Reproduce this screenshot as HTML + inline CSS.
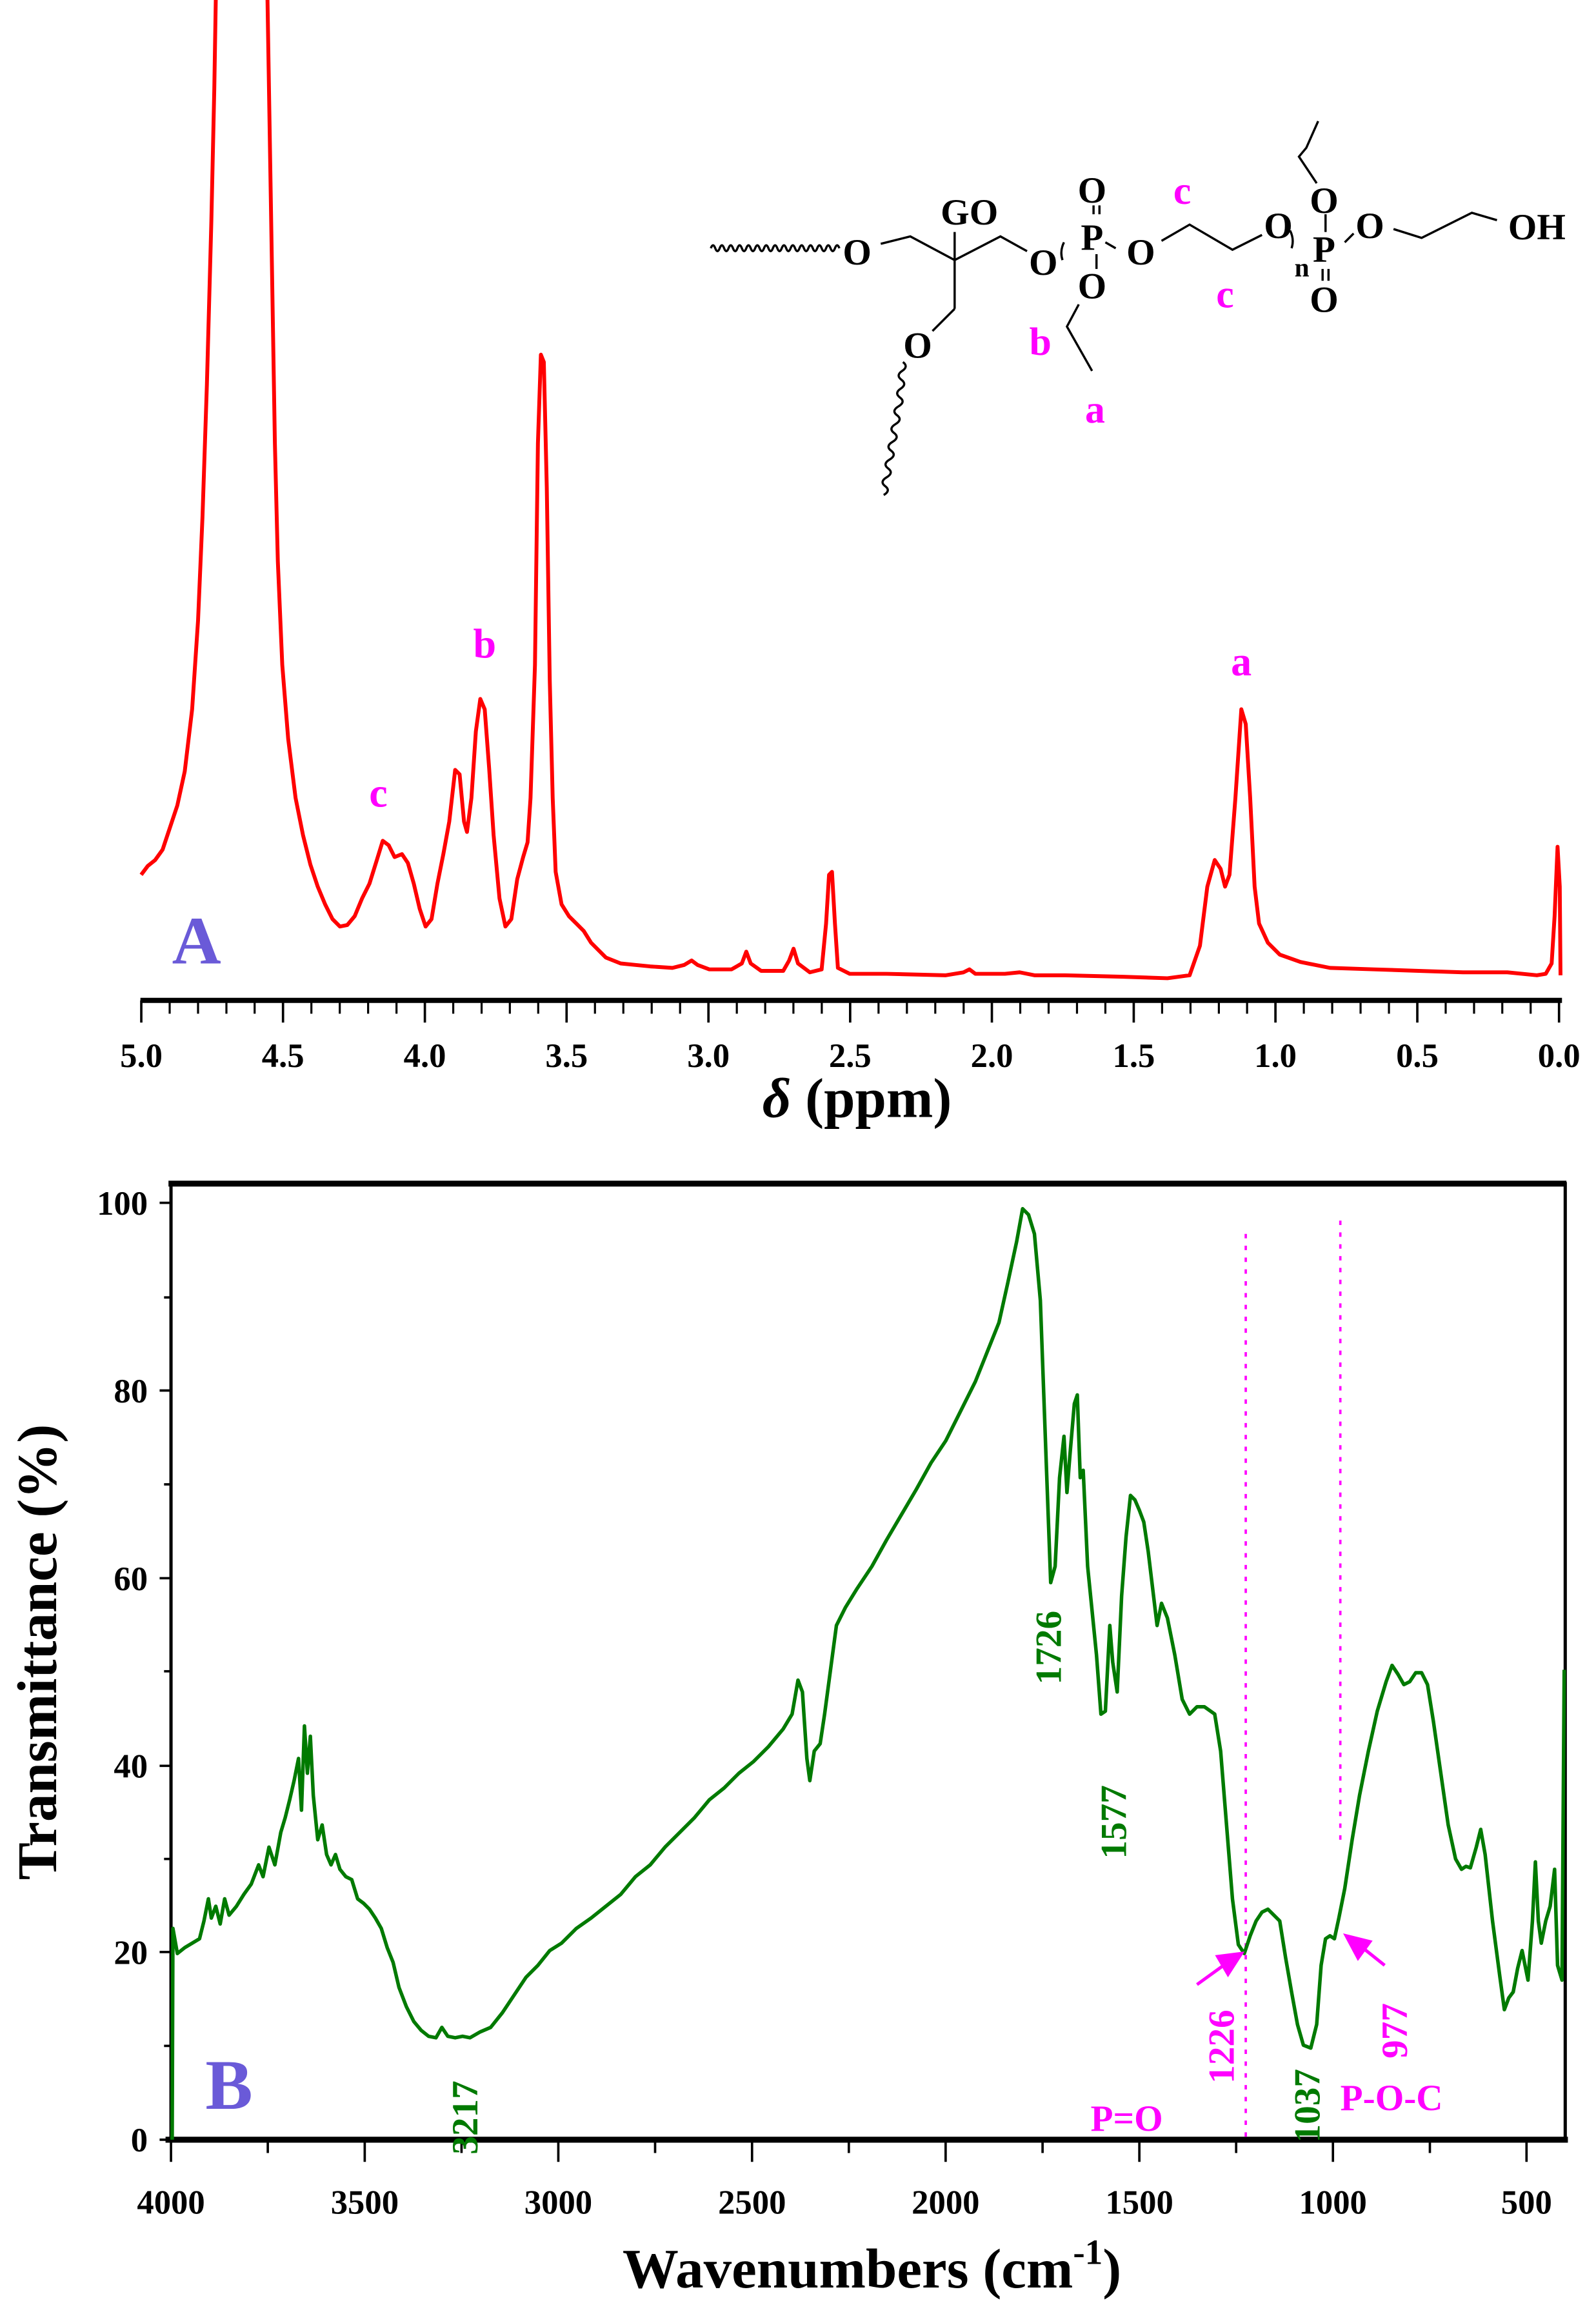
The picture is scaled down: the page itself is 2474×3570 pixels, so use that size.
<!DOCTYPE html>
<html><head><meta charset="utf-8"><style>
html,body{margin:0;padding:0;background:#fff;}
svg{display:block;}
text{font-family:"Liberation Serif",serif;font-weight:bold;}
</style></head><body>
<svg width="2474" height="3570" viewBox="0 0 1080 1558.5" xmlns="http://www.w3.org/2000/svg">
<!-- ===== TOP NMR ===== -->
<polyline fill="none" stroke="#ff0000" stroke-width="2.6" stroke-linejoin="round" points="95.5,592 100,586 105,582 110,575 115,560 120,545 125,522 130,480 134,420 137,350 140,260 143,150 145,60 146,0"/>
<polyline fill="none" stroke="#ff0000" stroke-width="2.6" stroke-linejoin="round" points="181,0 182,60 184,180 186,300 188,380 191,450 195,500 200,540 205,565 210,585 215,600 220,612 225,622 230,627 235,626 240,620 245,608 250,598 255,582 259,569 263,572 267,580 272,578 276,584 280,598 284,615 288,627 292,622 296,598 300,578 304,556 308,521 311,524 314,556 316,563 319,540 322,495 325,473 328,480 331,520 334,565 338,608 342,627 346,622 350,595 354,580 357,570 359,540 362,450 364,300 366,240 368,245 370,330 372,460 374,540 376,590 380,612 385,620 390,625 395,630 400,638 410,648 420,652 430,653 440,654 455,655 463,653 468,650 472,653 480,656 495,656 502,652 505,644 508,652 515,657 530,657 534,650 537,642 540,652 548,658 556,656 559,625 561,592 563,590 565,625 567,655 575,659 600,659 640,660 652,658 656,656 660,659 680,659 690,658 700,660 720,660 760,661 790,662 805,660 812,640 817,600 822,582 826,588 829,600 832,592 836,540 840,480 843,490 846,540 849,600 852,625 858,638 866,646 880,651 900,655 930,656 960,657 990,658 1020,658 1040,660 1046,659 1050,652 1052,620 1054,573 1055.5,600 1056,660"/>
<!-- x axis -->
<line x1="95" y1="677" x2="1057" y2="677" stroke="#000" stroke-width="3.5"/>
<g stroke="#000" stroke-width="1.6">
<line x1="95.6" y1="677" x2="95.6" y2="692"/><line x1="191.5" y1="677" x2="191.5" y2="692"/><line x1="287.5" y1="677" x2="287.5" y2="692"/><line x1="383.4" y1="677" x2="383.4" y2="692"/><line x1="479.4" y1="677" x2="479.4" y2="692"/><line x1="575.3" y1="677" x2="575.3" y2="692"/><line x1="671.2" y1="677" x2="671.2" y2="692"/><line x1="767.2" y1="677" x2="767.2" y2="692"/><line x1="863.1" y1="677" x2="863.1" y2="692"/><line x1="959.1" y1="677" x2="959.1" y2="692"/><line x1="1055" y1="677" x2="1055" y2="692"/>
</g>
<g stroke="#000" stroke-width="1.4">
<line x1="114.8" y1="677" x2="114.8" y2="686"/><line x1="134" y1="677" x2="134" y2="686"/><line x1="153.2" y1="677" x2="153.2" y2="686"/><line x1="172.3" y1="677" x2="172.3" y2="686"/>
<line x1="210.7" y1="677" x2="210.7" y2="686"/><line x1="229.9" y1="677" x2="229.9" y2="686"/><line x1="249.1" y1="677" x2="249.1" y2="686"/><line x1="268.3" y1="677" x2="268.3" y2="686"/>
<line x1="306.7" y1="677" x2="306.7" y2="686"/><line x1="325.9" y1="677" x2="325.9" y2="686"/><line x1="345" y1="677" x2="345" y2="686"/><line x1="364.2" y1="677" x2="364.2" y2="686"/>
<line x1="402.6" y1="677" x2="402.6" y2="686"/><line x1="421.8" y1="677" x2="421.8" y2="686"/><line x1="441" y1="677" x2="441" y2="686"/><line x1="460.2" y1="677" x2="460.2" y2="686"/>
<line x1="498.6" y1="677" x2="498.6" y2="686"/><line x1="517.8" y1="677" x2="517.8" y2="686"/><line x1="536.9" y1="677" x2="536.9" y2="686"/><line x1="556.1" y1="677" x2="556.1" y2="686"/>
<line x1="594.5" y1="677" x2="594.5" y2="686"/><line x1="613.7" y1="677" x2="613.7" y2="686"/><line x1="632.9" y1="677" x2="632.9" y2="686"/><line x1="652.1" y1="677" x2="652.1" y2="686"/>
<line x1="690.4" y1="677" x2="690.4" y2="686"/><line x1="709.6" y1="677" x2="709.6" y2="686"/><line x1="728.8" y1="677" x2="728.8" y2="686"/><line x1="748" y1="677" x2="748" y2="686"/>
<line x1="786.4" y1="677" x2="786.4" y2="686"/><line x1="805.6" y1="677" x2="805.6" y2="686"/><line x1="824.8" y1="677" x2="824.8" y2="686"/><line x1="843.9" y1="677" x2="843.9" y2="686"/>
<line x1="882.3" y1="677" x2="882.3" y2="686"/><line x1="901.5" y1="677" x2="901.5" y2="686"/><line x1="920.7" y1="677" x2="920.7" y2="686"/><line x1="939.9" y1="677" x2="939.9" y2="686"/>
<line x1="978.3" y1="677" x2="978.3" y2="686"/><line x1="997.5" y1="677" x2="997.5" y2="686"/><line x1="1016.6" y1="677" x2="1016.6" y2="686"/><line x1="1035.8" y1="677" x2="1035.8" y2="686"/>
</g>
<g font-size="23" text-anchor="middle">
<text x="95.6" y="722">5.0</text><text x="191.5" y="722">4.5</text><text x="287.5" y="722">4.0</text><text x="383.4" y="722">3.5</text><text x="479.4" y="722">3.0</text><text x="575.3" y="722">2.5</text><text x="671.2" y="722">2.0</text><text x="767.2" y="722">1.5</text><text x="863.1" y="722">1.0</text><text x="959.1" y="722">0.5</text><text x="1055" y="722">0.0</text>
</g>
<text x="580" y="756" font-size="38" text-anchor="middle"><tspan font-style="italic">δ</tspan> (ppm)</text>
<text x="133" y="652" font-size="46" fill="#6a5ad8" text-anchor="middle">A</text>
<g fill="#ff00ff" font-size="28" text-anchor="middle">
<text x="256" y="546">c</text><text x="328" y="445">b</text><text x="840" y="457">a</text>
</g>
<!-- structure -->
<g stroke="#000" stroke-width="1.5" fill="none">
<path d="M481,168 q1.5,-4 3,0 t3,0 t3,0 t3,0 t3,0 t3,0 t3,0 t3,0 t3,0 t3,0 t3,0 t3,0 t3,0 t3,0 t3,0 t3,0 t3,0 t3,0 t3,0 t3,0 t3,0 t3,0 t3,0 t3,0 t3,0 t3,0 t3,0 t3,0 t3,0"/>
<polyline points="596,165 616,160 646,176 677,160 695,170"/>
<line x1="646" y1="157" x2="646" y2="209"/>
<polyline points="646,209 631,224"/>
<path d="M611,245 q4,3 -0.5,6 t-0.5,6 t-0.5,6 t-0.5,6 t-1,6 t-1,6 t-1,6 t-1,6 t-1,6 t-1,6 t-1,6 t-1,6 t-1,6 t-1,6 t-1,6"/>
<path d="M720,164 q-3,6 -1,12"/>
<line x1="740" y1="139" x2="740" y2="145"/><line x1="744" y1="139" x2="744" y2="145"/>
<line x1="742" y1="172" x2="742" y2="182"/>
<line x1="748" y1="164" x2="755" y2="168"/>
<polyline points="786,163 805,152 834,169 854,159"/>
<polyline points="730,206 722,221 739,251"/>
<path d="M873,156 q3,6 1,12"/>
<polyline points="891,124 879,106 884,100 892,82"/>
<line x1="897" y1="145" x2="897" y2="157"/>
<line x1="895" y1="182" x2="895" y2="190"/><line x1="899" y1="182" x2="899" y2="190"/>
<line x1="910" y1="164" x2="916" y2="158"/>
<polyline points="943,155 962,161 996,144 1013,149"/>
</g>
<g font-size="25" text-anchor="middle" fill="#000">
<text x="580" y="179">O</text>
<text x="656" y="152">GO</text>
<text x="706" y="186">O</text>
<text x="739" y="137">O</text>
<text x="739" y="169">P</text>
<text x="739" y="202">O</text>
<text x="772" y="179">O</text>
<text x="865" y="161">O</text>
<text x="896" y="144">O</text>
<text x="896" y="177">P</text>
<text x="896" y="211">O</text>
<text x="881" y="187" font-size="18" font-weight="normal">n</text>
<text x="927" y="161">O</text>
<text x="1040" y="162">OH</text>
<text x="621" y="242">O</text>
</g>
<g fill="#ff00ff" font-size="27" text-anchor="middle">
<text x="800" y="138">c</text><text x="829" y="208">c</text><text x="704" y="240">b</text><text x="741" y="286">a</text>
</g>
<!-- ===== BOTTOM FTIR ===== -->
<rect x="115.7" y="801" width="943.5" height="647" fill="none" stroke="#000" stroke-width="2.2"/>
<line x1="114" y1="801" x2="1060" y2="801" stroke="#000" stroke-width="4"/>
<line x1="112" y1="1448" x2="1061" y2="1448" stroke="#000" stroke-width="4"/>
<g stroke="#000" stroke-width="1.6">
<line x1="115.7" y1="1448" x2="115.7" y2="1463"/><line x1="246.8" y1="1448" x2="246.8" y2="1463"/><line x1="377.8" y1="1448" x2="377.8" y2="1463"/><line x1="508.9" y1="1448" x2="508.9" y2="1463"/><line x1="639.9" y1="1448" x2="639.9" y2="1463"/><line x1="771" y1="1448" x2="771" y2="1463"/><line x1="902" y1="1448" x2="902" y2="1463"/><line x1="1033" y1="1448" x2="1033" y2="1463"/>
<line x1="181.2" y1="1448" x2="181.2" y2="1457"/><line x1="312.3" y1="1448" x2="312.3" y2="1457"/><line x1="443.3" y1="1448" x2="443.3" y2="1457"/><line x1="574.4" y1="1448" x2="574.4" y2="1457"/><line x1="705.5" y1="1448" x2="705.5" y2="1457"/><line x1="836.5" y1="1448" x2="836.5" y2="1457"/><line x1="967.6" y1="1448" x2="967.6" y2="1457"/>
<line x1="108" y1="1448" x2="115.7" y2="1448"/><line x1="108" y1="1321" x2="115.7" y2="1321"/><line x1="108" y1="1195" x2="115.7" y2="1195"/><line x1="108" y1="1068" x2="115.7" y2="1068"/><line x1="108" y1="941" x2="115.7" y2="941"/><line x1="108" y1="814" x2="115.7" y2="814"/>
<line x1="111" y1="1384.5" x2="115.7" y2="1384.5"/><line x1="111" y1="1258" x2="115.7" y2="1258"/><line x1="111" y1="1131" x2="115.7" y2="1131"/><line x1="111" y1="1004.5" x2="115.7" y2="1004.5"/><line x1="111" y1="878" x2="115.7" y2="878"/>
</g>
<g font-size="23" text-anchor="end">
<text x="100" y="1456">0</text><text x="100" y="1329">20</text><text x="100" y="1203">40</text><text x="100" y="1076">60</text><text x="100" y="949">80</text><text x="100" y="822">100</text>
</g>
<g font-size="23" text-anchor="middle">
<text x="115.7" y="1498">4000</text><text x="246.8" y="1498">3500</text><text x="377.8" y="1498">3000</text><text x="508.9" y="1498">2500</text><text x="639.9" y="1498">2000</text><text x="771" y="1498">1500</text><text x="902" y="1498">1000</text><text x="1033" y="1498">500</text>
</g>
<text x="590" y="1548" font-size="38" text-anchor="middle">Wavenumbers (cm<tspan font-size="24" dy="-16">-1</tspan><tspan dy="16">)</tspan></text>
<text transform="translate(38,1118) rotate(-90)" font-size="38" text-anchor="middle">Transmittance (%)</text>
<line x1="843" y1="835" x2="843" y2="1447" stroke="#ff00ff" stroke-width="1.6" stroke-dasharray="3,5"/>
<line x1="907" y1="826" x2="907" y2="1245" stroke="#ff00ff" stroke-width="1.6" stroke-dasharray="3,5"/>
<polyline fill="none" stroke="#007a00" stroke-width="2.4" stroke-linejoin="round" points="116.5,1448 117,1305 120,1322 125,1318 130,1315 135,1312 138,1300 141,1285 143,1298 146,1290 149,1302 152,1285 155,1296 160,1290 165,1282 170,1275 175,1262 178,1270 182,1250 186,1262 190,1240 193,1230 196,1218 199,1205 202,1190 204,1225 206,1168 208,1200 210,1175 212,1215 215,1245 218,1235 221,1255 224,1262 227,1255 230,1265 234,1270 238,1272 242,1285 246,1288 250,1292 254,1298 258,1305 262,1318 266,1328 270,1345 275,1358 280,1368 285,1374 290,1378 295,1379 299,1372 303,1378 308,1379 313,1378 318,1379 325,1375 332,1372 340,1362 348,1350 356,1338 364,1330 372,1320 380,1315 390,1305 400,1298 410,1290 420,1282 430,1270 440,1262 450,1250 460,1240 470,1230 480,1218 490,1210 500,1200 510,1192 520,1182 530,1170 536,1160 540,1137 543,1145 546,1190 548,1205 551,1185 555,1180 558,1160 562,1130 566,1100 572,1088 580,1075 590,1060 600,1042 610,1025 620,1008 630,990 640,975 650,955 660,935 668,915 676,895 682,868 688,840 692,818 696,822 700,835 704,880 708,990 711,1071 714,1060 717,1000 720,972 722,1010 724,985 727,950 729,944 731,1000 733,995 736,1060 739,1090 742,1120 745,1160 748,1158 751,1100 753,1125 756,1145 759,1080 762,1040 765,1012 768,1015 771,1022 774,1030 777,1050 780,1075 783,1100 786,1085 790,1095 795,1120 800,1150 805,1160 810,1155 815,1155 822,1160 826,1185 830,1235 834,1285 838,1316 842,1322 846,1310 850,1300 854,1294 858,1292 862,1296 866,1300 870,1325 874,1348 878,1370 882,1384 887,1386 891,1370 894,1330 897,1312 900,1310 903,1312 906,1298 910,1278 915,1245 920,1215 926,1185 932,1158 938,1138 942,1127 946,1133 950,1140 954,1138 958,1132 962,1132 966,1140 970,1165 975,1200 980,1235 985,1258 989,1265 992,1263 995,1264 999,1250 1002,1238 1005,1255 1010,1300 1015,1338 1018,1360 1021,1352 1024,1348 1027,1332 1030,1320 1032,1330 1034,1340 1037,1300 1039,1260 1041,1300 1043,1315 1046,1300 1049,1290 1052,1265 1054,1330 1057,1340 1058.5,1130"/>
<text x="155" y="1427" font-size="48" fill="#6a5ad8" text-anchor="middle">B</text>
<g fill="#007a00" font-size="25">
<text transform="translate(323,1458) rotate(-90)">3217</text>
<text transform="translate(718,1140) rotate(-90)">1726</text>
<text transform="translate(762,1258) rotate(-90)">1577</text>
<text transform="translate(893,1450) rotate(-90)">1037</text>
</g>
<g fill="#ff00ff" font-size="25">
<text transform="translate(835,1410) rotate(-90)">1226</text>
<text transform="translate(952,1393) rotate(-90)">977</text>
<text x="738" y="1442">P=O</text>
<text x="907" y="1428">P-O-C</text>
</g>
<g stroke="#ff00ff" stroke-width="2.2" fill="#ff00ff">
<line x1="810" y1="1343" x2="828" y2="1330"/><polygon points="840,1322 824,1324 831,1336"/>
<line x1="937" y1="1330" x2="922" y2="1318"/><polygon points="911,1310 919,1325 927,1314"/>
</g>
</svg>
</body></html>
